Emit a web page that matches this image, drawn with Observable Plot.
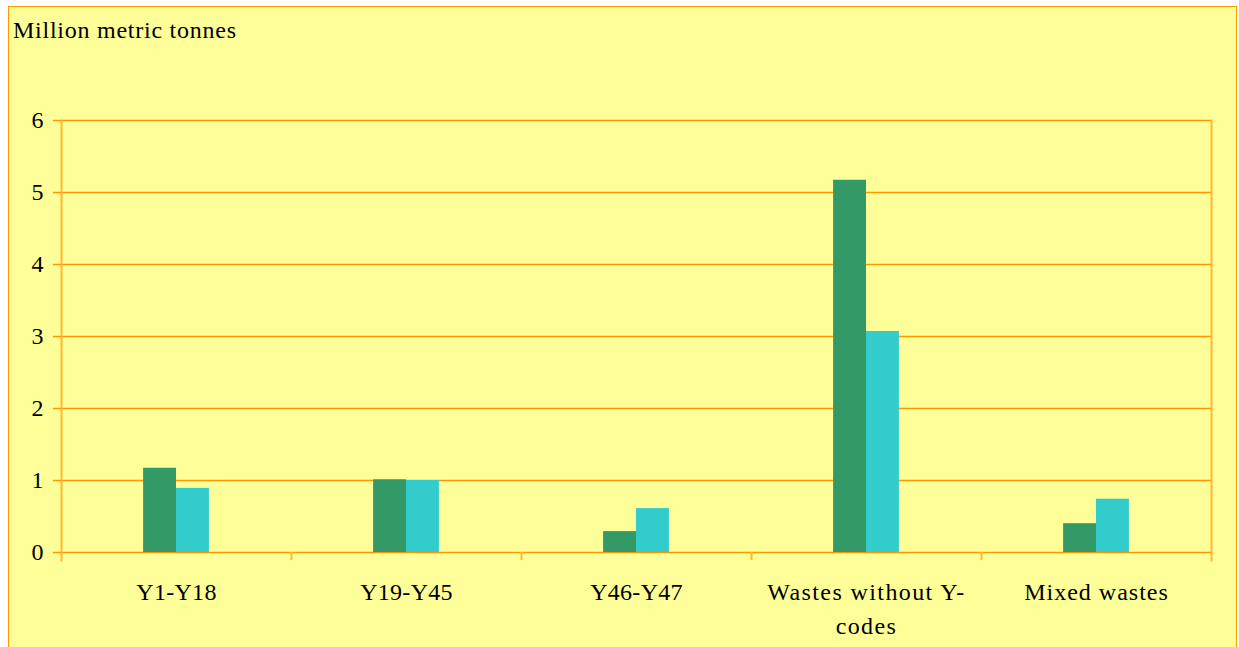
<!DOCTYPE html>
<html>
<head>
<meta charset="utf-8">
<script src="https://cdn.jsdelivr.net/npm/d3@7"></script>
<script src="https://cdn.jsdelivr.net/npm/@observablehq/plot@0.6"></script>
<style>
  html, body { margin: 0; padding: 0; background: #ffffff; }
  #wrap { position: relative; width: 1239px; height: 647px; overflow: hidden; }
  #panel { position: absolute; left: 8px; top: 6px; width: 1229px; height: 700px;
           border: 1.5px solid #FF9900; background: #FFFF99; box-sizing: border-box; }
  #title { position: absolute; left: 13px; top: 16px; font-family: "Liberation Serif", serif;
           font-size: 24px; letter-spacing: 0.75px; color: #000; line-height: 1.2; }
  #chart { position: absolute; left: 0; top: 0; }
</style>
</head>
<body>
<div id="wrap">
  <div id="panel"></div>
  <div id="title">Million metric tonnes</div>
  <div id="chart"></div>
</div>
<script>
const categories = ["Y1-Y18", "Y19-Y45", "Y46-Y47", "Wastes without Y-codes", "Mixed wastes"];
const tickLabels = ["Y1-Y18", "Y19-Y45", "Y46-Y47", "Wastes without Y-\ncodes", "Mixed wastes"];
const labelSpacing = ["0.3px", "0.3px", "0.3px", "1.4px", "1px"];
const seriesNames = ["Series 1", "Series 2"];
const series1 = [1.17, 1.01, 0.29, 5.17, 0.40];
const series2 = [0.89, 1.00, 0.61, 3.07, 0.74];
const yTicks = [0, 1, 2, 3, 4, 5, 6];
const colors = ["#339966", "#33CCCC"];

const W = 1239, H = 647;
const mL = 61, mR = 28, mT = 120, mB = 95;
const step = (W - mL - mR) / categories.length;
const barW = step * 0.143;
const groupLeft = (step - 2 * barW) / 2;

const rows1 = categories.map((c, i) => ({category: c, series: seriesNames[0], value: series1[i]}));
const rows2 = categories.map((c, i) => ({category: c, series: seriesNames[1], value: series2[i]}));

const font = "Liberation Serif";
const orange = "#FF9900";
const axisOrange = "#FFB833";
const labelFor = d => tickLabels[categories.indexOf(d)];

const chart = Plot.plot({
  width: W, height: H,
  marginLeft: mL, marginRight: mR, marginTop: mT, marginBottom: mB,
  style: {background: "transparent", fontFamily: font, fontSize: "24px", color: "#000"},
  x: {domain: categories, padding: 0, axis: null},
  y: {domain: [0, 6], axis: null},
  color: {domain: seriesNames, range: colors},
  marks: [
    Plot.ruleY(yTicks, {stroke: orange, strokeWidth: 1.5}),
    Plot.barY(rows1, {x: "category", y: "value", fill: "series",
      insetLeft: groupLeft, insetRight: step - groupLeft - barW}),
    Plot.barY(rows2, {x: "category", y: "value", fill: "series",
      insetLeft: groupLeft + barW, insetRight: step - groupLeft - 2 * barW}),
    Plot.frame({anchor: "left", stroke: axisOrange, strokeWidth: 2, insetBottom: -8}),
    Plot.frame({anchor: "right", stroke: axisOrange, strokeWidth: 2, insetBottom: -8}),
    Plot.ruleX(categories.slice(1), {x: d => d, y1: 0, y2: 0, insetBottom: -8,
      dx: -step / 2, stroke: axisOrange, strokeWidth: 2}),
    Plot.axisY({ticks: yTicks, tickSize: 8, tickPadding: 10, stroke: orange, strokeWidth: 1.5,
      fill: "#000", fontSize: 24, tickFormat: d => String(d), label: null}),
    Plot.axisX({tickSize: 0, tickPadding: 23, fill: "#000", fontSize: 24,
      tickFormat: labelFor, label: null, lineHeight: 1.42})
  ]
});
document.getElementById("chart").appendChild(chart);
d3.select(chart).selectAll("g[aria-label='x-axis tick label'] text").each(function() {
  const t = this.textContent;
  const i = tickLabels.findIndex(l => l.replace("\n", "") === t);
  if (i >= 0) this.setAttribute("letter-spacing", labelSpacing[i]);
});
</script>
</body>
</html>
